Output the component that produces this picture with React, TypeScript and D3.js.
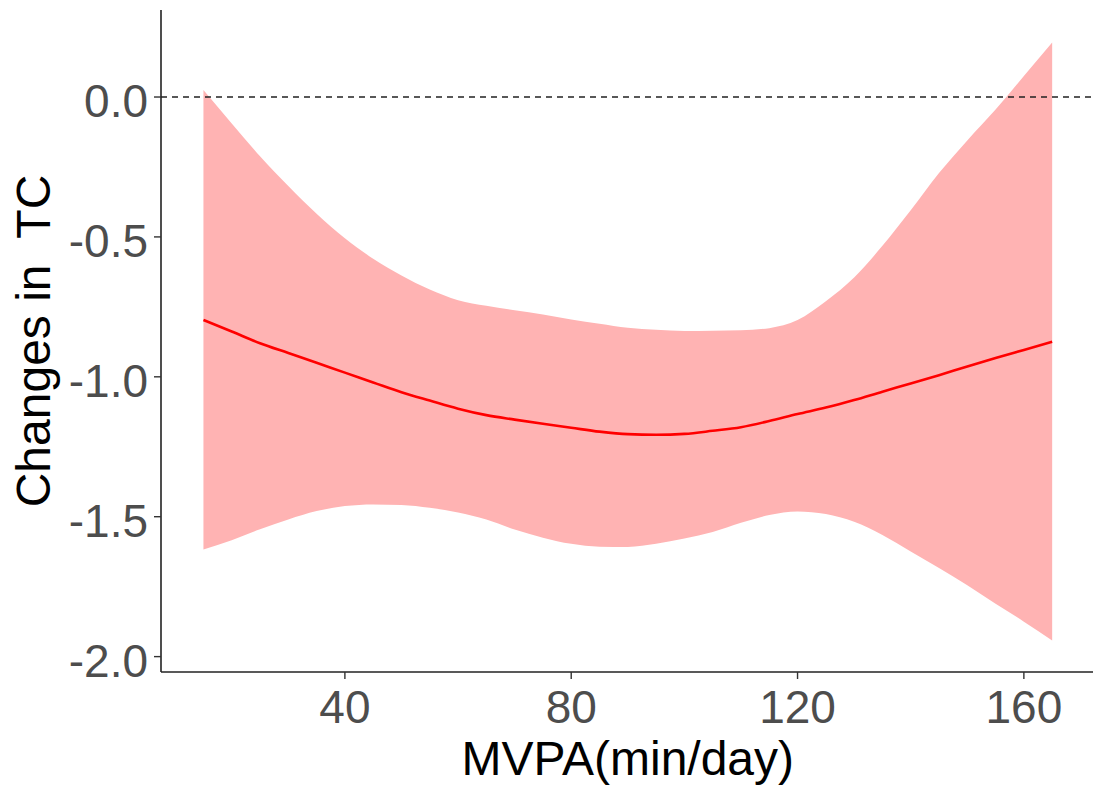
import React from "react";
import * as d3 from "d3";

const mvpa = [15, 20, 25, 30, 35, 40, 45, 50, 55, 60, 65, 70, 75, 80, 85, 90, 95, 100, 105, 110, 115, 120, 125, 130, 135, 140, 145, 150, 155, 160, 165];
const fit = [-0.797, -0.838, -0.88, -0.915, -0.95, -0.985, -1.02, -1.055, -1.085, -1.114, -1.137, -1.153, -1.168, -1.182, -1.196, -1.205, -1.207, -1.204, -1.193, -1.18, -1.158, -1.133, -1.11, -1.083, -1.053, -1.024, -0.994, -0.963, -0.933, -0.904, -0.875];
const upper = [0.025, -0.095, -0.212, -0.318, -0.417, -0.505, -0.578, -0.638, -0.688, -0.726, -0.746, -0.762, -0.777, -0.795, -0.81, -0.825, -0.832, -0.836, -0.835, -0.834, -0.826, -0.797, -0.73, -0.645, -0.532, -0.405, -0.272, -0.155, -0.045, 0.075, 0.195];
const lower = [-1.617, -1.584, -1.545, -1.51, -1.48, -1.462, -1.456, -1.458, -1.468, -1.485, -1.51, -1.546, -1.575, -1.597, -1.607, -1.608, -1.597, -1.578, -1.555, -1.522, -1.494, -1.481, -1.49, -1.518, -1.565, -1.624, -1.683, -1.745, -1.811, -1.875, -1.942];

const xTicks = [40, 80, 120, 160];
const yTicks = [0, -0.5, -1, -1.5, -2];
const xTitle = "MVPA(min/day)";
const yTitle = "Changes in  TC";

const W = 1093;
const H = 791;
const left = 161;
const right = 1094.6;
const top = 10;
const bottom = 672;

export default function App() {
  const x = d3.scaleLinear().domain([7.5, 172.5]).range([left, right]);
  const y = d3.scaleLinear().domain([-2.055, 0.311]).range([bottom, top]);
  const idx = mvpa.map((_, i) => i);
  const area = d3
    .area<number>()
    .x((i) => x(mvpa[i]))
    .y0((i) => y(lower[i]))
    .y1((i) => y(upper[i]))
    .curve(d3.curveMonotoneX);
  const line = d3
    .line<number>()
    .x((i) => x(mvpa[i]))
    .y((i) => y(fit[i]))
    .curve(d3.curveMonotoneX);
  const font = "'Liberation Sans', Arial, sans-serif";
  return (
    <svg
      width={W}
      height={H}
      style={{ position: "absolute", left: 0, top: 0, background: "#fff" }}
    >
      <rect x={0} y={0} width={W} height={H} fill="#fff" />
      <path d={area(idx) || ""} fill="#FFB3B3" stroke="none" />
      <path d={line(idx) || ""} fill="none" stroke="#FF0000" strokeWidth={2.6} />
      <line
        x1={left}
        x2={W}
        y1={y(0)}
        y2={y(0)}
        stroke="#222"
        strokeWidth={1.7}
        strokeDasharray="6,5"
      />
      <line x1={left} x2={left} y1={top} y2={bottom} stroke="#222" strokeWidth={1.6} />
      <line x1={left} x2={W} y1={bottom} y2={bottom} stroke="#222" strokeWidth={1.6} />
      {yTicks.map((t) => (
        <g key={"y" + t}>
          <line x1={left - 7} x2={left} y1={y(t)} y2={y(t)} stroke="#333" strokeWidth={1.4} />
          <text
            x={148}
            y={y(t) + 20}
            textAnchor="end"
            fontFamily={font}
            fontSize={46}
            fill="#4D4D4D"
          >
            {t.toFixed(1)}
          </text>
        </g>
      ))}
      {xTicks.map((t) => (
        <g key={"x" + t}>
          <line x1={x(t)} x2={x(t)} y1={bottom} y2={bottom + 7} stroke="#333" strokeWidth={1.4} />
          <text
            x={x(t)}
            y={723}
            textAnchor="middle"
            fontFamily={font}
            fontSize={46}
            fill="#4D4D4D"
          >
            {t}
          </text>
        </g>
      ))}
      <text
        x={(left + right) / 2}
        y={775}
        textAnchor="middle"
        fontFamily={font}
        fontSize={48}
        fill="#000"
      >
        {xTitle}
      </text>
      <text
        transform={`translate(50, ${(top + bottom) / 2}) rotate(-90)`}
        textAnchor="middle"
        fontFamily={font}
        fontSize={48}
        fill="#000"
        style={{ whiteSpace: "pre" }}
        xmlSpace="preserve"
      >
        {yTitle}
      </text>
    </svg>
  );
}
